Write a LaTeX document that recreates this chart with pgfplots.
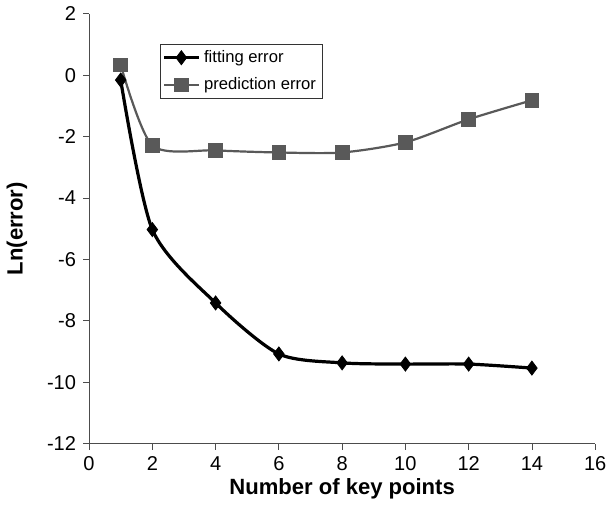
\documentclass[border=0pt]{standalone}
\usepackage{fontspec}
\setmainfont{Liberation Sans}
\usepackage{pgfplots}
\pgfplotsset{compat=1.18}
\definecolor{predgray}{gray}{0.35}

\begin{document}
\begin{tikzpicture}
\begin{axis}[
    scale only axis,
    width=252.5pt, height=214.5pt,
    xmin=0, xmax=16, ymin=-12, ymax=2,
    xtick={0,2,...,16}, ytick={-12,-10,...,2},
    axis x line*=bottom, axis y line*=left,
    axis line style={black!70, line width=0.4pt},
    tick style={black!70, line width=0.4pt},
    tick align=outside, major tick length=3pt,
    ticklabel style={font=\fontsize{10}{12}\selectfont},
    /pgf/number format/assume math mode=true,
    xlabel={\textbf{Number of key points}},
    ylabel={\textbf{Ln(error)}},
    label style={font=\fontsize{11}{13}\selectfont},
    xlabel style={yshift=3pt},
    ylabel style={yshift=3pt},
    legend style={at={(axis cs:2.25,1.02)}, anchor=north west,
        draw=black!80, line width=0.4pt,
        font=\fontsize{8.3}{10}\selectfont,
        inner sep=1pt, row sep=2pt,
        cells={anchor=west}},
    legend cell align=left,
]
\addplot[black, line width=1.6pt, smooth, tension=0.45,
    mark=diamond*, mark size=3.5pt, mark options={solid, fill=black, line width=0.4pt}]
coordinates {
(1,-0.16)(2,-5.03)(4,-7.42)(6,-9.08)(8,-9.37)(10,-9.41)(12,-9.41)(14,-9.54)
};
\addlegendentry{fitting error}
\addplot[predgray, line width=1.1pt, smooth, tension=0.45,
    mark=square*, mark size=3.4pt, mark options={solid, fill=predgray, line width=0.4pt}]
coordinates {
(1,0.33)(2,-2.29)(4,-2.45)(6,-2.52)(8,-2.52)(10,-2.19)(12,-1.44)(14,-0.82)
};
\addlegendentry{prediction error}
\end{axis}
\end{tikzpicture}
\end{document}
